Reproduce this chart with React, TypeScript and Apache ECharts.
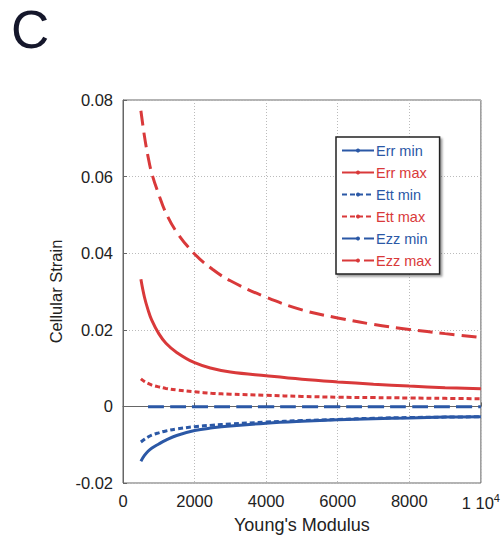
import React, { useEffect, useRef } from "react";
import * as echarts from "echarts";

const youngs = [500, 600, 700, 800, 1000, 1200, 1500, 2000, 2500, 3000, 4000, 5000, 6000, 7000, 8000, 9000, 10000];
const errMin = [-0.0143, -0.0128, -0.0117, -0.0109, -0.0098, -0.0088, -0.0076, -0.0063, -0.0056, -0.0051, -0.0044, -0.0039, -0.0035, -0.0032, -0.0030, -0.0028, -0.0027];
const errMax = [0.0332, 0.0285, 0.0252, 0.0226, 0.019, 0.0165, 0.0141, 0.0114, 0.0099, 0.009, 0.008, 0.0071, 0.0064, 0.0058, 0.0053, 0.0049, 0.0046];
const ettMin = [-0.0093, -0.0086, -0.008, -0.0075, -0.0069, -0.0064, -0.0059, -0.0053, -0.0049, -0.0046, -0.0041, -0.0037, -0.0034, -0.0031, -0.0029, -0.0028, -0.0027];
const ettMax = [0.0072, 0.0065, 0.006, 0.0056, 0.0051, 0.0047, 0.0043, 0.0038, 0.0034, 0.0032, 0.0029, 0.0026, 0.0024, 0.0023, 0.0022, 0.0021, 0.002];
const ezzMin = [null, null, -0.0001, -0.0001, -0.0001, -0.0001, -0.0001, -0.0001, -0.0001, -0.0001, -0.0001, -0.0001, -0.0001, -0.0001, -0.0001, -0.0001, -0.0001];
const ezzMax = [0.0772, 0.0705, 0.0652, 0.061, 0.0553, 0.0505, 0.0455, 0.0398, 0.0358, 0.0328, 0.0285, 0.0252, 0.0231, 0.0214, 0.0201, 0.019, 0.018];
const yTicks = [-0.02, 0, 0.02, 0.04, 0.06, 0.08];
const xTicks = [0, 2000, 4000, 6000, 8000, 10000];

const BLUE = "#2b58a6";
const RED = "#d9393a";

const seriesDefs = [
  { name: "Err min", values: errMin, color: BLUE, dash: "solid" as any },
  { name: "Err max", values: errMax, color: RED, dash: "solid" as any },
  { name: "Ett min", values: ettMin, color: BLUE, dash: [5, 3] },
  { name: "Ett max", values: ettMax, color: RED, dash: [5, 3] },
  { name: "Ezz min", values: ezzMin, color: BLUE, dash: [16, 6] },
  { name: "Ezz max", values: ezzMax, color: RED, dash: [15, 7] },
];

export default function App() {
  const ref = useRef<HTMLDivElement>(null);
  useEffect(() => {
    const chart = echarts.init(ref.current!, null, { renderer: "svg" });
    const font = "Liberation Sans, Arial, sans-serif";
    chart.setOption({
      animation: false,
      backgroundColor: "#ffffff",
      title: {
        text: "C",
        left: 6,
        top: -2,
        textStyle: { fontFamily: font, fontWeight: 400, fontSize: 53, color: "#15172b" },
      },
      grid: { left: 123, right: 21, top: 100, bottom: 59, show: true, borderColor: "#666", borderWidth: 1, backgroundColor: "transparent" },
      legend: {
        orient: "vertical",
        left: 336,
        top: 137,
        padding: [6, 8, 6, 5],
        itemWidth: 32,
        itemHeight: 5,
        itemGap: 7,
        backgroundColor: "#fff",
        borderColor: "#222",
        borderWidth: 1.5,
        shadowColor: "rgba(0,0,0,0.4)",
        shadowBlur: 2,
        shadowOffsetX: 2,
        shadowOffsetY: 2,
        textStyle: { fontFamily: font, fontSize: 14.5, padding: [0, 0, 0, -3] },
        data: seriesDefs.map((s) => ({ name: s.name, textStyle: { color: s.color } })),
      },
      xAxis: {
        type: "value",
        min: 0,
        max: 10000,
        interval: 2000,
        axisLine: { show: true, lineStyle: { color: "#666" } },
        axisTick: { inside: true, length: 4, lineStyle: { color: "#666" } },
        splitLine: { show: true, lineStyle: { color: "#bbb", type: [1, 2] } },
        axisLabel: {
          fontFamily: font,
          fontSize: 16.5,
          color: "#222",
          margin: 9,
          formatter: (v: number) => (v === 10000 ? "1 10{sup|4}" : xTicks.includes(v) ? String(v) : ""),
          rich: { sup: { fontSize: 11, verticalAlign: "top", padding: [0, 0, 10, 0], fontFamily: font, color: "#222" } },
        },
        name: "Young's Modulus",
        nameLocation: "middle",
        nameGap: 28,
        nameTextStyle: { fontFamily: font, fontSize: 18, color: "#222" },
      },
      yAxis: {
        type: "value",
        min: -0.02,
        max: 0.08,
        interval: 0.02,
        axisLine: { show: true, lineStyle: { color: "#666" } },
        axisTick: { inside: true, length: 4, lineStyle: { color: "#666" } },
        splitLine: { show: true, lineStyle: { color: "#bbb", type: [1, 2] } },
        axisLabel: {
          fontFamily: font,
          fontSize: 16.5,
          color: "#222",
          margin: 10,
          formatter: (v: number) => {
            const t = yTicks.find((y) => Math.abs(y - v) < 1e-9);
            if (t === undefined) return "";
            return t === 0 ? "0" : t.toFixed(2);
          },
        },
        name: "Cellular Strain",
        nameLocation: "middle",
        nameGap: 52,
        nameTextStyle: { fontFamily: font, fontSize: 16.5, color: "#222" },
      },
      series: seriesDefs.map((s) => ({
        name: s.name,
        type: "line",
        smooth: 0.4,
        symbol: "circle",
        symbolSize: 4,
        showSymbol: false,
        connectNulls: false,
        data: youngs.map((x, i) => [x, s.values[i]]),
        itemStyle: { color: s.color },
        lineStyle: { color: s.color, width: 3, type: s.dash },
      })),
    });
    return () => chart.dispose();
  }, []);
  return <div ref={ref} style={{ position: "fixed", left: 0, top: 0, width: 503, height: 542 }} />;
}
